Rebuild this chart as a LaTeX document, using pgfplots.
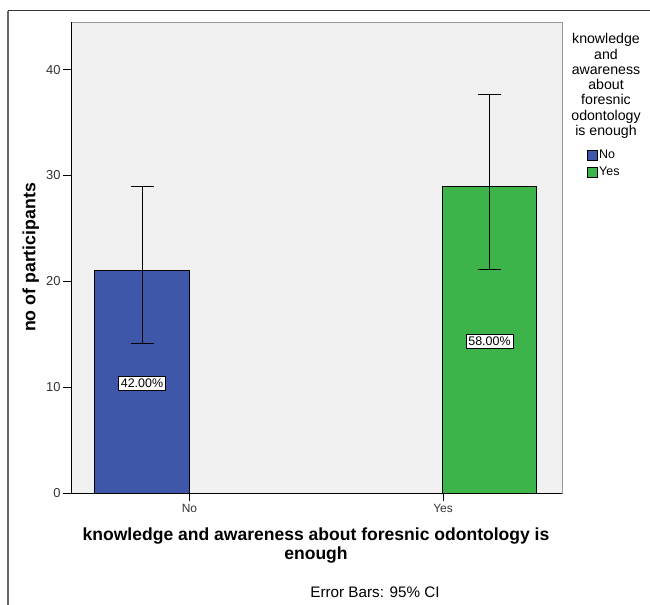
\documentclass[border=0pt]{standalone}
\usepackage{pgfplots}
\pgfplotsset{compat=1.18}
\usepackage{fontspec}
\setmainfont{Liberation Sans}

\definecolor{bggray}{HTML}{F0F0F0}
\definecolor{barblue}{HTML}{3E57A8}
\definecolor{bargreen}{HTML}{3CB44A}
\definecolor{ticktext}{HTML}{333333}

\begin{document}
\begin{tikzpicture}
\path[use as bounding box] (0,0) rectangle (650bp,-605bp);
% outer frame (top and left only)
\draw[draw=gray!80!black, line width=1.2bp] (8bp,-605bp) -- (8bp,-10.5bp);
\draw[draw=black!80, line width=1bp] (8bp,-10.5bp) -- (650bp,-10.5bp);

\begin{axis}[
  at={(71bp,-493bp)}, anchor=south west,
  scale only axis, width=491bp, height=471bp,
  xmin=0, xmax=491, ymin=0, ymax=44.5,
  xtick={118.5,372}, xticklabels={No,Yes},
  ytick={0,10,20,30,40},
  tick align=outside, major tick length=8bp,
  xtick pos=bottom, ytick pos=left,
  tick style={black, line width=0.8bp},
  axis background/.style={fill=bggray},
  axis line style={draw=gray!80},
  yticklabel style={font=\fontsize{13}{15}\selectfont, text=ticktext, xshift=1bp},
  xticklabel style={font=\fontsize{12}{14}\selectfont, text=ticktext},
  /pgf/number format/assume math mode=true,
  xlabel={knowledge and awareness about foresnic odontology is\\enough},
  xlabel style={at={(rel axis cs:0.499,-0.074)}, anchor=north, align=center,
    inner sep=0pt, font=\fontsize{17.6}{19}\selectfont\bfseries},
  ylabel={no of participants},
  ylabel style={at={(rel axis cs:-0.082,0.5)}, anchor=center,
    font=\fontsize{17.8}{20}\selectfont\bfseries},
  legend style={at={(rel axis cs:1.051,0.731)}, anchor=north west,
    draw=none, fill=none, font=\fontsize{12.5}{14}\selectfont,
    row sep=3.5bp, inner sep=0pt,
    nodes={inner sep=1.5bp}},
  legend cell align=left,
  legend image code/.code={\draw[#1, draw=black, line width=0.5bp] (0bp,-5bp) rectangle (10bp,5bp);},
]
\addplot[ybar, bar shift=0pt, bar width=94.5, fill=barblue, draw=black, line width=0.6bp,
  error bars/.cd, y dir=both, y explicit,
  error bar style={black, line width=0.8bp},
  error mark options={rotate=90, mark size=11.5bp, black, line width=0.8bp}]
  coordinates {(71,21) += (0,8.0) -= (0,6.84)};
\addlegendentry{No}
\addplot[ybar, bar shift=0pt, bar width=94.5, fill=bargreen, draw=black, line width=0.6bp,
  error bars/.cd, y dir=both, y explicit,
  error bar style={black, line width=0.8bp},
  error mark options={rotate=90, mark size=11.5bp, black, line width=0.8bp}]
  coordinates {(418.5,29) += (0,8.68) -= (0,7.88)};
\addlegendentry{Yes}

\draw[black, line width=1bp] (rel axis cs:0,1) -- (rel axis cs:0,0) -- (rel axis cs:1,0);

\node[draw=black, fill=white, inner sep=2.5bp, line width=0.6bp, font=\fontsize{12.5}{14}\selectfont]
  at (axis cs:71,10.4) {42.00\%};
\node[draw=black, fill=white, inner sep=2.5bp, line width=0.6bp, font=\fontsize{12.5}{14}\selectfont]
  at (axis cs:418.5,14.3) {58.00\%};
\end{axis}

% legend title
\node[anchor=north, align=center, font=\fontsize{14.2}{15.3}\selectfont, inner sep=0pt]
  at (606bp,-33.5bp) {knowledge\\and\\awareness\\about\\foresnic\\odontology\\is enough};

\node[font=\fontsize{15.3}{17}\selectfont] at (375bp,-592bp) {Error Bars: 95\% CI};
\end{tikzpicture}
\end{document}
